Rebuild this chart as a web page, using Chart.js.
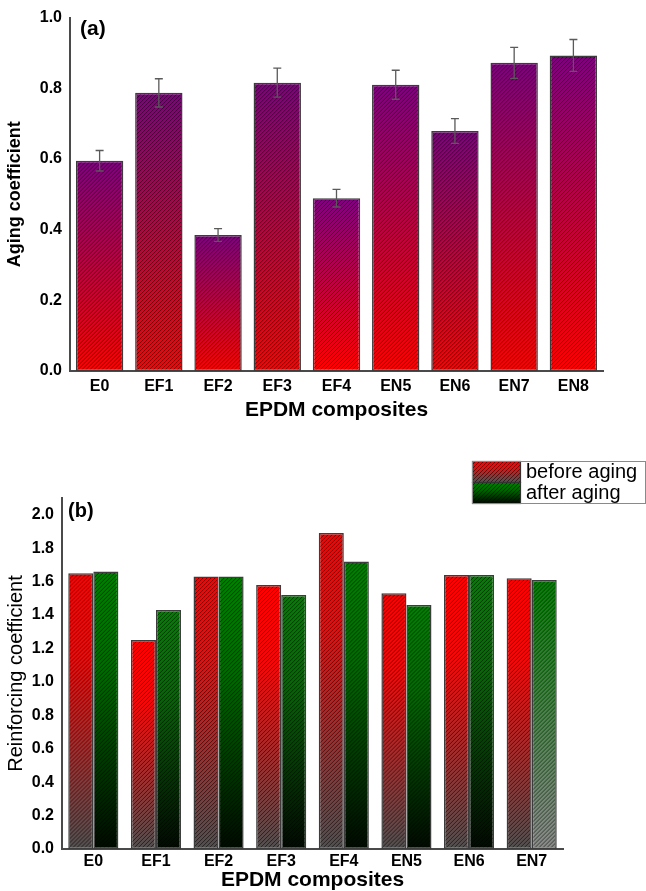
<!DOCTYPE html>
<html>
<head>
<meta charset="utf-8">
<script src="https://cdn.jsdelivr.net/npm/chart.js@4.4.0/dist/chart.umd.min.js"></script>
<style>
  body { margin: 0; background: #fff; }
  #wrapA { position: absolute; left: 0; top: 0; width: 646px; height: 440px; }
  #wrapB { position: absolute; left: 0; top: 440px; width: 646px; height: 451px; }
</style>
</head>
<body>
<div id="wrapA"><canvas id="chartA"></canvas></div>
<div id="wrapB"><canvas id="chartB"></canvas></div>
<script>
// (a) aging coefficient
const agingLabels = ['E0', 'EF1', 'EF2', 'EF3', 'EF4', 'EN5', 'EN6', 'EN7', 'EN8'];
const agingValues = [0.595, 0.787, 0.385, 0.816, 0.489, 0.810, 0.679, 0.872, 0.893];
const agingErrors = [0.029, 0.040, 0.018, 0.041, 0.025, 0.041, 0.035, 0.044, 0.045];

// (b) reinforcing coefficient
const reinfLabels = ['E0', 'EF1', 'EF2', 'EF3', 'EF4', 'EN5', 'EN6', 'EN7'];
const beforeAging = [1.65, 1.25, 1.63, 1.58, 1.89, 1.53, 1.64, 1.62];
const afterAging = [1.66, 1.43, 1.63, 1.52, 1.72, 1.46, 1.64, 1.61];

Chart.defaults.font.family = '"Liberation Sans", Arial, sans-serif';
Chart.defaults.color = '#000';

const AXIS_COLOR = '#4a4a4a';
const BAR_BORDER = '#3c3c3c';

/**
 * Vertical gradient spanning one bar, from its top down to the zero line
 */
function barGradient(context, stops) {
    const chart = context.chart;
    if (!chart.chartArea || context.type !== 'data') return stops[0][1];
    const yScale = chart.scales.y;
    const top = yScale.getPixelForValue(context.raw);
    const bottom = yScale.getPixelForValue(0);
    const g = chart.ctx.createLinearGradient(0, top, 0, bottom);
    stops.forEach(s => g.addColorStop(s[0], s[1]));
    return g;
}

const purpleRed = [[0, '#800080'], [1, '#ff0000']];
const redGrey = [[0, '#ff0000'], [0.3, '#f50808'], [1, '#505050']];
const greenBlack = [[0, '#008000'], [0.35, '#006a00'], [1, '#000a00']];
const greenGrey = [[0, '#008000'], [1, '#8a8a8a']];

function drawHatch(ctx, left, top, w, h) {
    ctx.save();
    ctx.beginPath();
    ctx.rect(left, top, w, h);
    ctx.clip();
    ctx.strokeStyle = 'rgba(0,0,0,0.55)';
    ctx.lineWidth = 1;
    ctx.beginPath();
    for (let s = -h; s < w + h; s += 4) {
        ctx.moveTo(left + s, top + h);
        ctx.lineTo(left + s + h, top);
    }
    ctx.stroke();
    ctx.restore();
}

// Hatching over every bar (inside its border)
const hatchPlugin = {
    id: 'hatch',
    afterDatasetsDraw(chart) {
        const ctx = chart.ctx;
        chart.data.datasets.forEach((ds, i) => {
            const meta = chart.getDatasetMeta(i);
            const bw = ds.borderWidth || 0;
            meta.data.forEach(bar => {
                const p = bar.getProps(['x', 'y', 'base', 'width'], true);
                const left = p.x - p.width / 2 + bw;
                const top = Math.min(p.y, p.base) + bw;
                drawHatch(ctx, left, top, p.width - 2 * bw, Math.abs(p.base - p.y) - 2 * bw);
            });
        });
    }
};

// Error bars for panel (a)
const errorBarPlugin = {
    id: 'errorBars',
    afterDatasetsDraw(chart) {
        const ctx = chart.ctx;
        const yScale = chart.scales.y;
        const meta = chart.getDatasetMeta(0);
        ctx.save();
        ctx.strokeStyle = '#5a5a5a';
        ctx.lineWidth = 1.3;
        meta.data.forEach((bar, i) => {
            const x = bar.x;
            const hi = yScale.getPixelForValue(agingValues[i] + agingErrors[i]);
            const lo = yScale.getPixelForValue(agingValues[i] - agingErrors[i]);
            ctx.beginPath();
            ctx.moveTo(x, hi); ctx.lineTo(x, lo);
            ctx.moveTo(x - 4, hi); ctx.lineTo(x + 4, hi);
            ctx.moveTo(x - 4, lo); ctx.lineTo(x + 4, lo);
            ctx.stroke();
        });
        ctx.restore();
    }
};

// Panel letter in the top-left corner of the plot
const panelLabelPlugin = {
    id: 'panelLabel',
    afterDraw(chart, args, opts) {
        const ctx = chart.ctx;
        const area = chart.chartArea;
        ctx.save();
        ctx.font = 'bold ' + opts.size + 'px "Liberation Sans", Arial, sans-serif';
        ctx.fillStyle = '#000';
        ctx.textBaseline = 'middle';
        ctx.fillText(opts.text, area.left + opts.dx, area.top + opts.dy);
        ctx.restore();
    }
};

// Boxed legend for panel (b), above the plot at the right
const boxLegendPlugin = {
    id: 'boxLegend',
    afterDraw(chart, args, opts) {
        const ctx = chart.ctx;
        const rowH = 21, swW = 48, boxW = 173;
        const left = opts.x, top = opts.y;
        ctx.save();
        chart.data.datasets.forEach((ds, i) => {
            const y0 = top + i * rowH;
            const g = ctx.createLinearGradient(0, y0, 0, y0 + rowH);
            opts.stops[i].forEach(s => g.addColorStop(s[0], s[1]));
            ctx.fillStyle = g;
            ctx.fillRect(left, y0, swW, rowH);
            drawHatch(ctx, left, y0, swW, rowH);
            ctx.strokeStyle = '#333';
            ctx.lineWidth = 1.2;
            ctx.strokeRect(left + 0.5, y0 + 0.5, swW, rowH);
            ctx.font = '20px "Liberation Sans", Arial, sans-serif';
            ctx.fillStyle = '#000';
            ctx.textBaseline = 'middle';
            ctx.fillText(ds.label, left + swW + 6, y0 + rowH / 2 + 1);
        });
        ctx.strokeStyle = '#8a8a8a';
        ctx.lineWidth = 1;
        ctx.strokeRect(left + 0.5, top + 0.5, boxW, rowH * 2);
        ctx.restore();
    }
};

function axisX(title, tickPad, titlePad, height) {
    return {
        grid: { display: false, drawTicks: false },
        border: { display: true, color: AXIS_COLOR, width: 2 },
        ticks: { font: { size: 16, weight: 'bold' }, padding: tickPad, color: '#000', maxRotation: 0 },
        title: {
            display: true, text: title, color: '#000',
            font: { size: 21, weight: 'bold', lineHeight: 1 },
            padding: { top: 0, bottom: titlePad }
        },
        afterFit: scale => { scale.height = height; }
    };
}

function axisY(title, titleFont, max, width) {
    return {
        min: 0,
        max: max,
        grid: { display: false, drawTicks: false },
        border: { display: true, color: AXIS_COLOR, width: 2 },
        ticks: {
            stepSize: 0.2,
            includeBounds: false,
            padding: 8,
            color: '#000',
            font: { size: 16, weight: 'bold' },
            callback: v => v.toFixed(1)
        },
        title: { display: true, text: title, font: titleFont, padding: { top: 4, bottom: 0 }, color: '#000' },
        afterFit: scale => { scale.width = width; }
    };
}

new Chart(document.getElementById('chartA'), {
    type: 'bar',
    data: {
        labels: agingLabels,
        datasets: [{
            label: 'Aging coefficient',
            data: agingValues,
            backgroundColor: c => barGradient(c, purpleRed),
            borderColor: BAR_BORDER,
            borderWidth: 1.5,
            borderSkipped: false,
            categoryPercentage: 1.0,
            barPercentage: 0.8
        }]
    },
    options: {
        responsive: true,
        maintainAspectRatio: false,
        animation: false,
        events: [],
        layout: { padding: { top: 10, right: 43, left: 0, bottom: 0 } },
        plugins: {
            legend: { display: false },
            tooltip: { enabled: false },
            panelLabel: { text: '(a)', size: 21, dx: 10, dy: 12 }
        },
        scales: {
            x: axisX('EPDM composites', 6, 19, 69),
            y: axisY('Aging coefficient', { size: 18, weight: 'bold' }, 1.0, 70)
        }
    },
    plugins: [hatchPlugin, errorBarPlugin, panelLabelPlugin]
});

new Chart(document.getElementById('chartB'), {
    type: 'bar',
    data: {
        labels: reinfLabels,
        datasets: [{
            label: 'before aging',
            data: beforeAging,
            backgroundColor: c => barGradient(c, redGrey),
            borderColor: BAR_BORDER,
            borderWidth: 1.5,
            borderSkipped: false,
            categoryPercentage: 0.8,
            barPercentage: 1.0
        }, {
            label: 'after aging',
            data: afterAging,
            backgroundColor: c => barGradient(c, c.dataIndex === afterAging.length - 1 ? greenGrey : greenBlack),
            borderColor: BAR_BORDER,
            borderWidth: 1.5,
            borderSkipped: false,
            categoryPercentage: 0.8,
            barPercentage: 1.0
        }]
    },
    options: {
        responsive: true,
        maintainAspectRatio: false,
        animation: false,
        events: [],
        layout: { padding: { top: 58, right: 83, left: 0, bottom: 0 } },
        plugins: {
            legend: { display: false },
            tooltip: { enabled: false },
            panelLabel: { text: '(b)', size: 20, dx: 6, dy: 13 },
            boxLegend: { x: 472, y: 21, stops: [redGrey, greenBlack] }
        },
        scales: {
            x: axisX('EPDM composites', 3, 0, 42),
            y: axisY('Reinforcing coefficient', { size: 20, weight: 'normal' }, 2.1, 62)
        }
    },
    plugins: [hatchPlugin, panelLabelPlugin, boxLegendPlugin]
});
</script>
</body>
</html>
